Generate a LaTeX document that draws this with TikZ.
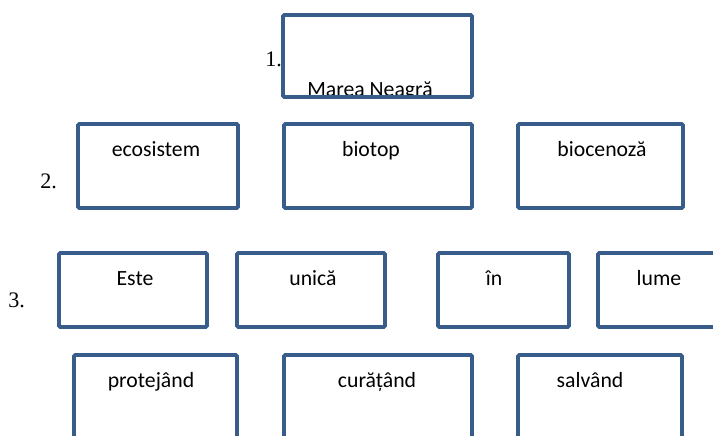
\documentclass[tikz,border=0pt]{standalone}
\usepackage{fontspec}
\setmainfont{Liberation Serif}
\newfontfamily\boxfont{Carlito}
\definecolor{boxblue}{RGB}{56,93,138}
\tikzset{
  boxline/.style={draw=boxblue, line width=2.8pt, rounded corners=1pt},
  boxtext/.style={anchor=base, inner sep=0pt, font=\boxfont\fontsize{16.3}{19}\selectfont},
  numtext/.style={anchor=base west, inner sep=0pt, font=\fontsize{16.6}{20}\selectfont},
}
\begin{document}
\begin{tikzpicture}[x=0.75pt,y=0.75pt,yscale=-1,xscale=1]
        \useasboundingbox (0,0) rectangle (713,435);
        % Numbers
        \draw (265,67) node [numtext] (n1) {1.};
        \draw (40,188) node [numtext] (n2) {2.};
        \draw (8,307) node [numtext] (n3) {3.};
        % Row 1
        \begin{scope}
          \clip (283,15) rectangle (472,95);
          \draw (370,96) node [boxtext] (marea) {Marea Neagră};
        \end{scope}
        \draw [boxline] (283,15) rectangle (472,97);
        % Row 2
        \draw [boxline] (78,124) rectangle (238,208);
        \draw [boxline] (284,124) rectangle (472,208);
        \draw [boxline] (518,124) rectangle (683,208);
        \draw (156,156) node [boxtext] (ecosistem) {ecosistem};
        \draw (371,156) node [boxtext] (biotop) {biotop};
        \draw (602,156) node [boxtext] (biocenoza) {biocenoză};
        % Row 3
        \draw [boxline] (59,253) rectangle (207,327);
        \draw [boxline] (237,253) rectangle (385,327);
        \draw [boxline] (438,253) rectangle (569,327);
        \draw [boxline] (598,253) rectangle (730,327);
        \draw (135,285) node [boxtext] (este) {Este};
        \draw (313,285) node [boxtext] (unica) {unică};
        \draw (494,285) node [boxtext] (in) {în};
        \draw (659,285) node [boxtext] (lume) {lume};
        % Row 4
        \draw [boxline] (74,355) rectangle (237,450);
        \draw [boxline] (284,355) rectangle (472,450);
        \draw [boxline] (518,355) rectangle (682,450);
        \draw (151,387) node [boxtext] (protejand) {protejând};
        \draw (377,387) node [boxtext] (curatand) {curățând};
        \draw (590,387) node [boxtext] (salvand) {salvând};
    \end{tikzpicture}
\end{document}
